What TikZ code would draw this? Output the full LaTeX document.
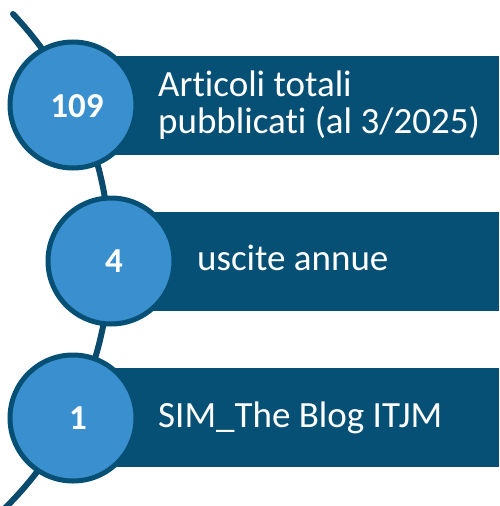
\documentclass[tikz,border=0pt]{standalone}
\usepackage{fontspec}
\setmainfont{Carlito}[Ligatures=NoCommon]
\definecolor{dkblue}{HTML}{065075}
\definecolor{lineblue}{HTML}{0A4A6C}
\definecolor{circblue}{HTML}{3A90CF}
\begin{document}
\begin{tikzpicture}[x=1pt,y=-1pt,
  bar/.style={fill=dkblue, draw=none, minimum height=99pt, minimum width=426pt, anchor=west, inner sep=0pt},
  disc/.style={circle, fill=circblue, draw=dkblue, line width=5pt, minimum size=126pt, inner sep=0pt},
  num/.style={text=white, font=\fontsize{35}{42}\selectfont\bfseries},
  lbl/.style={text=white, font=\fontsize{37}{37}\selectfont, align=left, inner sep=0pt}]
\useasboundingbox (0,0) rectangle (499,506);
% arc spine
\coordinate (ts) at (13,14);
\draw[lineblue, line width=6pt, line cap=round] (ts) arc[start angle=-43.5, end angle=47, radius=353];
% bars
\node[bar] (r1) at (73,105.5) {};
\node[bar] (r2) at (73,261) {};
\node[bar] (r3) at (73,417.5) {};
% circles
\node[disc] (c1) at (73,105) {};
\node[disc] (c2) at (111,261) {};
\node[disc] (c3) at (73,418) {};
\node[num] (n1) at ([xshift=4pt,yshift=-1pt]c1.center) {109};
\node[num] (n2) at ([xshift=3pt]c2.center) {4};
\node[num] (n3) at ([xshift=5pt]c3.center) {1};
% labels
\node[lbl, anchor=west] (t1) at (158,105.5) {Articoli totali\\pubblicati (al 3/2025)};
\node[lbl, anchor=base west] (t2) at (197,270) {uscite annue};
\node[lbl, anchor=base west] (t3) at (158,427) {SIM\_The Blog ITJM};
\end{tikzpicture}
\end{document}
